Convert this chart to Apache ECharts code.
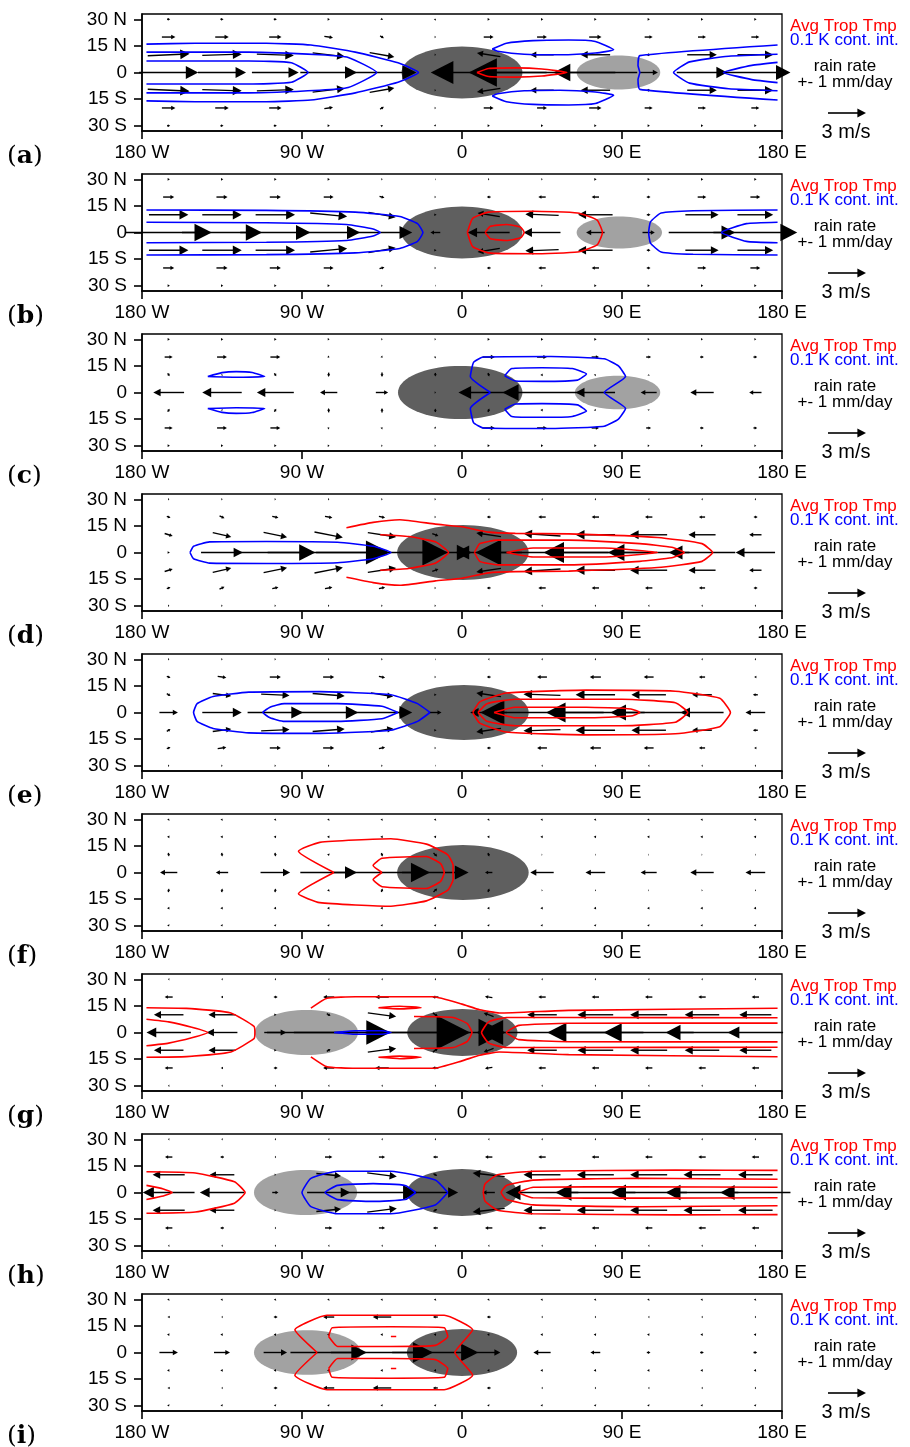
<!DOCTYPE html>
<html>
<head>
<meta charset="utf-8">
<script src="https://cdn.jsdelivr.net/npm/echarts@6/dist/echarts.min.js"></script>
<style>
html,body{margin:0;padding:0;background:#fff;}
#chart{width:910px;height:1447px;}
</style>
</head>
<body>
<div id="chart"></div>
<script>
// ---- vector grid: longitudes of the arrow columns, latitudes of the northern rows
// (southern rows at -10, -20, -30 mirror the northern ones: same u, opposite v)
const lons = [-165, -135, -105, -75, -45, -15, 15, 45, 75, 105, 135, 165];
const rowLats = [30, 20, 10, 0];

// ---- tick labels
const xTicks = [-180, -90, 0, 90, 180];
const xTickLabels = ['180 W', '90 W', '0', '90 E', '180 E'];
const yTicks = [30, 15, 0, -15, -30];
const yTickLabels = ['30 N', '15 N', '0', '15 S', '30 S'];
const panelLetters = ['a', 'b', 'c', 'd', 'e', 'f', 'g', 'h', 'i'];

// ---- winds (m/s), rows: 30N, 20N, 10N, equator
const uA = [
  [0.25, 0.25, 0.25, 0.2, 0.15, 0.1, 0.2, 0.2, 0.2, 0.2, 0.2, 0.2],
  [1.1, 1.1, 1.0, 0.7, 0.3, 0.1, 0.8, 0.8, 1.0, 0.65, 0.65, 0.65],
  [3.4, 3.2, 3.0, 2.6, 2.0, 0.1, -1.9, -1.9, -2.4, 0.3, 2.4, 2.9],
  [4.8, 3.9, 3.8, 4.6, 5.6, 0.3, -9.4, -11.9, -6.8, 1.5, 4.1, 5.7]];
const vA = [
  [0, 0, 0, 0, -0.1, 0.1, 0, 0, 0, 0, 0, 0],
  [0, 0, 0, -0.1, -0.2, 0, 0, 0, 0, 0, 0, 0],
  [0.15, 0.1, -0.1, -0.3, -0.35, 0, 0.3, 0, 0, 0, 0, 0],
  [0, 0, 0, 0, 0, 0, 0, 0, 0, 0, 0, 0]];

const uB = [
  [0.2, 0.2, 0.2, 0.2, 0.1, 0.05, 0.1, 0.1, 0.2, 0.2, 0.2, 0.2],
  [0.9, 0.9, 0.9, 0.8, 0.4, 0.1, -0.3, -0.6, -0.6, 0.3, 0.7, 0.8],
  [3.2, 3.2, 3.2, 3.0, 2.2, 0.2, -1.8, -2.7, -2.8, 0.3, 2.7, 2.9],
  [7.0, 6.5, 5.7, 5.1, 4.9, -0.8, -3.4, -3.0, -1.5, 1.0, 5.4, 6.8]];
const vB = [
  [0, 0, 0, 0, 0, 0, 0, 0, 0, 0, 0, 0],
  [0, 0, 0, 0, -0.1, 0, 0, 0, 0, 0, 0, 0],
  [0, 0, 0, -0.3, -0.4, 0, 0.3, 0.1, 0, 0, 0, 0],
  [0, 0, 0, 0, 0, 0, 0, 0, 0, 0, 0, 0]];

const uC = [
  [0.2, 0.2, 0.2, 0.15, 0.1, 0.1, 0.2, 0.2, 0.2, 0.15, 0.15, 0.15],
  [0.65, 0.8, 0.8, 0.1, 0.1, 0.1, 1.0, 0.8, 0.6, 0.4, 0.3, 0.3],
  [0.15, 0.05, 0.15, 0, 0, 0, 0.1, 0.1, 0.1, 0, 0, 0],
  [-2.5, -3.2, -3.0, -1.4, 1.0, 0.1, -4.9, -6.4, -3.2, -1.3, -1.9, -1.0]];
const vC = [
  [0, 0, 0, 0, 0, 0, 0, 0, 0, 0, 0, 0],
  [0, 0, 0, -0.1, -0.1, 0.1, 0, 0, 0, 0, 0, 0],
  [-0.25, 0.1, -0.25, -0.35, -0.35, -0.3, -0.3, 0.2, 0.1, 0.1, 0, 0],
  [0, 0, 0, 0, 0, 0, 0, 0, 0, 0, 0, 0]];

const uD = [
  [0.1, 0.1, 0.1, 0.1, 0.1, 0.1, -0.1, -0.1, -0.1, -0.1, -0.1, -0.1],
  [0.3, 0.4, 0.5, 0.6, 0.5, 0.1, -0.3, -0.6, -0.6, -0.6, -0.5, -0.3],
  [0.65, 1.5, 1.9, 2.3, 2.3, 0.5, -2.0, -3.0, -3.2, -3.0, -2.2, -1.0],
  [0.2, 3.4, 6.5, 9.9, 10.7, 5.9, -5.4, -10.8, -8.4, -6.6, -5.4, -3.2]];
const vD = [
  [0, 0, 0, 0, 0, 0, 0, 0, 0, 0, 0, 0],
  [-0.1, -0.2, -0.1, -0.1, -0.1, 0, 0, 0, 0, 0, 0, 0],
  [-0.2, -0.35, -0.4, -0.45, -0.35, -0.2, 0.3, 0.2, 0, 0, 0, 0],
  [0, 0, 0, 0, 0, 0, 0, 0, 0, 0, 0, 0]];

const uE = [
  [0.1, 0.1, 0.1, 0.1, 0.1, 0.05, -0.1, -0.1, -0.1, -0.1, -0.1, -0.1],
  [0.3, 0.7, 0.9, 0.9, 0.5, 0.1, -0.3, -0.8, -0.9, -0.8, -0.5, -0.2],
  [0.3, 1.5, 2.3, 2.6, 1.8, 0.2, -2.0, -3.0, -3.2, -2.8, -1.6, -0.4],
  [1.5, 3.2, 4.5, 4.8, 4.9, 1.0, -3.0, -10.0, -8.0, -6.2, -3.5, -1.6]];
const vE = [
  [0, 0, 0, 0, 0, 0, 0, 0, 0, 0, 0, 0],
  [-0.1, -0.1, 0, 0, -0.1, 0, 0, 0, 0, 0, 0, 0],
  [-0.2, -0.2, -0.1, -0.2, -0.3, 0, 0.3, 0.1, 0, 0, 0, 0],
  [0, 0, 0, 0, 0, 0, 0, 0, 0, 0, 0, 0]];

const uF = [
  [0.05, 0.05, 0.05, 0.05, 0.05, 0.05, 0.05, 0.05, 0.05, 0.05, 0.05, 0.05],
  [0.1, 0.1, 0.1, 0.1, 0.1, 0.1, 0.1, 0.1, 0.1, 0.1, 0.1, 0.1],
  [0.05, 0.05, 0.05, 0.05, 0.1, 0.3, 0.1, 0.05, 0.05, 0.05, 0.05, 0.05],
  [-1.4, -1.0, 2.4, 4.6, 7.8, 5.4, -0.6, -1.9, -1.6, -1.3, -1.9, -1.6]];
const vF = [
  [0.15, 0.15, 0.15, 0.15, 0.15, 0.15, 0.15, 0.15, 0.15, 0.15, 0.15, 0.15],
  [-0.2, -0.2, -0.2, -0.2, -0.2, -0.2, -0.2, -0.2, -0.2, -0.2, -0.2, -0.2],
  [-0.3, -0.3, -0.3, -0.2, -0.3, -0.3, -0.3, 0, 0, 0, 0, 0],
  [0, 0, 0, 0, 0, 0, 0, 0, 0, 0, 0, 0]];

const uG = [
  [-0.1, -0.1, -0.1, -0.1, -0.1, -0.1, -0.1, -0.1, -0.1, -0.1, -0.1, -0.1],
  [-0.65, -0.2, -0.3, -0.9, -1.1, -0.5, -0.6, -0.6, -0.6, -0.6, -0.6, -0.6],
  [-2.4, -2.2, 0.2, 0.3, 2.3, 0.4, -0.8, -2.4, -2.9, -3.0, -2.8, -2.6],
  [-3.6, -2.5, 1.8, 10.0, 14.3, 11.4, -2.0, -10.3, -7.8, -7.3, -5.9, -4.5]];
const vG = [
  [0, 0, 0, 0, 0, 0, 0, 0, 0, 0, 0, 0],
  [0, 0, 0, 0, 0, 0, 0.1, 0, 0, 0, 0, 0],
  [0, 0, 0, -0.2, -0.3, -0.3, 0.3, 0, 0, 0, 0, 0],
  [0, 0, 0, 0, 0, 0, 0, 0, 0, 0, 0, 0]];

const uH = [
  [-0.1, -0.1, -0.1, -0.1, -0.1, -0.1, -0.1, -0.1, -0.1, -0.1, -0.1, -0.1],
  [-0.6, -0.3, -0.1, 0.6, 0.5, -0.4, -0.6, -0.6, -0.6, -0.6, -0.6, -0.6],
  [-2.6, -2.0, 0.1, 2.0, 2.4, 0.3, -2.6, -3.0, -3.0, -3.0, -3.0, -2.8],
  [-4.2, -3.6, 0.5, 3.5, 5.8, 3.7, -1.0, -5.9, -6.5, -6.2, -5.9, -5.7]];
const vH = [
  [0, 0, 0, 0, 0, 0, 0, 0, 0, 0, 0, 0],
  [0, 0, 0, 0, 0, 0, 0, 0, 0, 0, 0, 0],
  [0, 0, 0, -0.2, -0.3, -0.2, 0.3, 0, 0, 0, 0, 0],
  [0, 0, 0, 0, 0, 0, 0, 0, 0, 0, 0, 0]];

const uI = [
  [0.05, 0.05, 0.05, 0.05, 0.05, 0.05, 0.05, 0.05, 0.05, 0.05, 0.05, 0.05],
  [-0.2, -0.1, -0.3, -0.9, -1.5, -0.4, -0.3, -0.1, -0.1, -0.1, -0.1, -0.1],
  [0.1, 0.1, 0.1, 0.1, 0.1, 0.1, 0.1, 0.1, 0.1, 0.1, 0.1, 0.1],
  [1.5, 1.3, 1.9, 6.2, 8.3, 7.0, 1.9, -1.4, -0.8, 0.3, 0.3, 0.3]];
const vI = [
  [0.15, 0.15, 0.15, 0.15, 0.15, 0.15, 0.15, 0.15, 0.15, 0.15, 0.15, 0.15],
  [0, 0, 0, 0, 0, 0, 0, 0, 0, 0, 0, 0],
  [-0.2, -0.2, -0.2, -0.2, -0.2, -0.2, -0.2, -0.2, -0.2, -0.2, -0.2, -0.2],
  [0, 0, 0, 0, 0, 0, 0, 0, 0, 0, 0, 0]];

// ---- rain-rate anomalies: [lon, lat, half-width lon, half-height lat, sign]
const rainA = [[0, 0, 34, 14.6, 1], [88, 0, 23.5, 9.6, -1]];
const rainB = [[0, 0, 34, 14.6, 1], [88.5, 0, 24, 9, -1]];
const rainC = [[-1, 0, 35, 15, 1], [87.5, 0, 24, 9.5, -1]];
const rainD = [[0.5, 0, 37, 15.5, 1]];
const rainE = [[1, 0, 36.5, 15.5, 1]];
const rainF = [[0.5, 0, 37, 15.5, 1]];
const rainG = [[-87.5, 0, 29, 12.7, -1], [0.2, 0, 31, 13.2, 1]];
const rainH = [[-88, 0, 29, 12.7, -1], [0, 0, 31, 13.2, 1]];
const rainI = [[-87, 0, 30, 12.6, -1], [0, 0, 31, 13.2, 1]];

// ---- temperature contours (the analysed field spans 177.5 W .. 177.5 E)
// sym(): northern branch ending on the equator, closed by its mirror image
function sym(pts) {
  const low = pts.slice(0, -1).reverse().map(p => [p[0], -p[1]]);
  return pts.concat(low);
}
function flip(pts) { return pts.map(p => [p[0], -p[1]]); }

const lensA = [[17, 13.2], [25, 16.5], [40, 18], [60, 18.3], [75, 17.5], [85.3, 12.8], [75, 11], [55, 10], [35, 10.3], [20, 12], [17, 13.2]];
const coldA = [
  sym([[-177.5, 16], [-150, 16.5], [-110, 16.5], [-85, 15.5], [-60, 11.5], [-36, 5.5], [-24.5, 0]]),
  sym([[-177.5, 11.5], [-120, 11.5], [-80, 10], [-64, 8.5], [-48, 0]]),
  sym([[-177.5, 6.5], [-120, 6.5], [-96, 5.5], [-86.6, 0]]),
  sym([[177.5, 15.5], [100, 9.5], [99, 4], [100, 0]]),
  sym([[177.5, 10.3], [150, 9.2], [128, 6], [119, 0]]),
  sym([[177.5, 5.7], [163, 4], [147, 0]]),
  lensA, flip(lensA)];
const warmA = [sym([[8.4, 0], [15, 2.3], [30, 2.6], [45, 2], [59, 0]])];

const coldB = [
  sym([[-177.5, 12.7], [-110, 12.5], [-60, 11.5], [-35, 9], [-25, 5], [-22, 0]]),
  sym([[-177.5, 5.8], [-110, 5.5], [-65, 4.5], [-50, 2], [-46, 0]]),
  sym([[177.5, 12.7], [130, 12.3], [112, 11], [106, 6], [105, 0]]),
  sym([[177.5, 5.8], [160, 5], [146, 0]])];
const warmB = [
  sym([[3, 0], [6, 8], [15, 11.5], [40, 12], [65, 11], [76, 7], [79, 0]]),
  sym([[13, 0], [16, 3.5], [25, 4.5], [33, 3], [35, 0]])];

const lensC = [[-143, 9], [-135, 11.2], [-127, 11.8], [-118, 11.3], [-111, 9], [-127, 8.6], [-143, 9]];
const innerC = [[24, 9.4], [28, 13.5], [45, 14], [62, 13.5], [70, 10.5], [65, 7], [45, 6.3], [30, 6.5], [24, 9.4]];
const coldC = [
  lensC, flip(lensC),
  sym([[16, 0], [4.7, 9], [6.5, 17], [12, 20], [50, 20.3], [80, 19], [88, 15], [92, 9], [80, 0]]),
  innerC, flip(innerC)];
const warmC = [];

const coldD = [sym([[-153, 0], [-151, 3.5], [-142, 6], [-110, 6.2], [-70, 5.8], [-50, 3.5], [-40, 0]])];
const warmD = [
  sym([[-65, 14], [-50, 17], [-35, 18.5], [-15, 16], [0, 14.5], [15, 11.5], [30, 10.8], [60, 10.5], [110, 8.5], [135, 5], [141, 0]]),
  sym([[-46, 10], [-30, 9], [-15, 6], [-7.6, 0]]),
  sym([[7, 0], [10, 5], [20, 7], [60, 7], [100, 5], [118, 3], [125, 0]]),
  sym([[25, 0], [40, 2.5], [80, 2.5], [110, 0]])];

const coldE = [
  sym([[-18, 0], [-25, 5], [-40, 10], [-80, 11.8], [-120, 11.5], [-140, 9], [-149, 5], [-151, 0]]),
  sym([[-36, 0], [-45, 3.5], [-70, 5], [-100, 5], [-108, 3], [-112, 0]])];
const warmE = [
  sym([[6, 0], [10, 6], [25, 11], [70, 12.6], [120, 12], [145, 8], [151, 0]]),
  sym([[9, 0], [14, 5], [30, 7.5], [90, 7.5], [120, 5.5], [127, 0]]),
  sym([[18, 0], [30, 3], [70, 3], [95, 2], [100, 0]])];

const coldF = [];
const warmF = [
  sym([[-72, 0], [-92, 12], [-80, 17], [-40, 19], [-20, 16], [-8, 10], [-5, 4], [-5, 0]]),
  sym([[-45, 0], [-50, 4], [-45, 8], [-20, 9], [-12, 5], [-10, 0]])];

const dashG = [[-47, 14], [-35, 14.8], [-23, 14], [-35, 13.3], [-47, 14]];
const armG = [[-85, 13.7], [-76, 19.3], [-60, 20.2], [-16, 20.2], [0, 16], [10, 12.8], [21, 11], [60, 12.5], [177.5, 13.7]];
const coldG = [sym([[-72, 0], [-60, 1], [-45, 1], [-40, 0]])];
const warmG = [
  sym([[-177.5, 14], [-155, 13.6], [-130, 11], [-117, 3.5], [-116.5, 0]]),
  sym([[-177.5, 7.5], [-165, 6], [-152, 3], [-143, 0]]),
  armG, flip(armG),
  sym([[-27, 9], [-5, 8.5], [3, 5], [5.6, 0]]),
  sym([[177.5, 8.3], [60, 8.5], [25, 8.5], [15, 6], [11, 0]]),
  sym([[177.5, 5.3], [60, 5.2], [32, 4], [25, 0]]),
  dashG, flip(dashG)];

const coldH = [
  sym([[-8, 0], [-15, 7], [-40, 12], [-70, 12], [-85, 8], [-90, 0]]),
  sym([[-26, 0], [-32, 4], [-50, 5], [-70, 4], [-77, 0]])];
const warmH = [
  sym([[-177.5, 11.7], [-150, 11], [-128, 6], [-122, 0]]),
  sym([[-177.5, 4], [-168, 2], [-163, 0]]),
  sym([[177.5, 12.5], [120, 12.6], [40, 12], [20, 10], [13, 5], [12, 0]]),
  sym([[177.5, 7.5], [100, 8], [40, 7], [25, 4], [22, 0]]),
  sym([[177.5, 3], [100, 3.2], [40, 3], [32, 0]])];

const innerI = [[-75, 9], [-73, 14], [-40, 14.5], [-10, 14], [-8, 9], [-15, 4], [-40, 3.4], [-70, 3.4], [-75, 9]];
const dashI = [[-40, 9], [-37, 9]];
const coldI = [];
const warmI = [
  sym([[-81.5, 0], [-94, 12.8], [-76, 21], [-10, 21], [6, 12.8], [-4, 0]]),
  innerI, flip(innerI), dashI, flip(dashI)];

const panels = [
  {u: uA, v: vA, rain: rainA, cold: coldA, warm: warmA},
  {u: uB, v: vB, rain: rainB, cold: coldB, warm: warmB},
  {u: uC, v: vC, rain: rainC, cold: coldC, warm: warmC},
  {u: uD, v: vD, rain: rainD, cold: coldD, warm: warmD},
  {u: uE, v: vE, rain: rainE, cold: coldE, warm: warmE},
  {u: uF, v: vF, rain: rainF, cold: coldF, warm: warmF},
  {u: uG, v: vG, rain: rainG, cold: coldG, warm: warmG},
  {u: uH, v: vH, rain: rainH, cold: coldH, warm: warmH},
  {u: uI, v: vI, rain: rainI, cold: coldI, warm: warmI}];

// ---- drawing
const REF_SPEED = 3;           // m/s of the key arrow
const REF_DEG = 20.8;          // key arrow length in degrees of longitude
const K = REF_DEG / REF_SPEED; // arrow length per m/s, in degrees
const PANEL_STEP = 160, GRID_TOP = 14, GRID_H = 117, GRID_LEFT = 142, GRID_W = 640;
const SANS = '"Liberation Sans", Arial, Helvetica, sans-serif';
const SERIF = '"DejaVu Serif", "Liberation Serif", serif';

function arrowShapes(a, b, lw) {
  const dx = b[0] - a[0], dy = b[1] - a[1];
  const L = Math.hypot(dx, dy);
  if (L < 0.3) return [];
  const ux = dx / L, uy = dy / L;
  const hl = Math.min(L, 0.18 * L + 1.8), hw = 0.09 * L + 1.1;
  const bx = b[0] - ux * hl, by = b[1] - uy * hl;
  const out = [];
  if (L - hl > 0.5) {
    out.push({type: 'line', shape: {x1: a[0], y1: a[1], x2: bx + ux * 0.8, y2: by + uy * 0.8},
      style: {stroke: '#000', lineWidth: lw}});
  }
  out.push({type: 'polygon', shape: {points: [[b[0], b[1]], [bx - uy * hw, by + ux * hw], [bx + uy * hw, by - ux * hw]]},
    style: {fill: '#000'}});
  return out;
}

function renderArrow(params, api) {
  const lon = api.value(0), lat = api.value(1), u = api.value(2), v = api.value(3);
  const a = api.coord([lon - K * u / 2, lat - K * v / 2]);
  const b = api.coord([lon + K * u / 2, lat + K * v / 2]);
  return {type: 'group', children: arrowShapes(a, b, 1.4)};
}

function renderRain(params, api) {
  const lon = api.value(0), lat = api.value(1), rx = api.value(2), ry = api.value(3), s = api.value(4);
  const pts = [];
  for (let i = 0; i < 72; i++) {
    const t = i / 72 * Math.PI * 2;
    pts.push(api.coord([lon + rx * Math.cos(t), lat + ry * Math.sin(t)]));
  }
  return {type: 'polygon', shape: {points: pts}, style: {fill: s > 0 ? '#5f5f5f' : '#a2a2a2'}};
}

const grids = [], xAxes = [], yAxes = [], series = [], graphics = [];
panels.forEach((p, k) => {
  const top = GRID_TOP + PANEL_STEP * k;
  grids.push({left: GRID_LEFT, top: top, width: GRID_W, height: GRID_H,
    show: true, borderColor: '#000', borderWidth: 1.3, backgroundColor: 'transparent'});
  xAxes.push({gridIndex: k, type: 'value', min: -180, max: 180, interval: 90,
    axisLine: {onZero: false, lineStyle: {color: '#000', width: 1.6}},
    axisTick: {length: 8, lineStyle: {color: '#000', width: 1.6}},
    splitLine: {show: false},
    axisLabel: {margin: 12, color: '#000', fontSize: 19, fontFamily: SANS,
      formatter: val => xTickLabels[xTicks.indexOf(val)] || ''}});
  yAxes.push({gridIndex: k, type: 'value', min: -33, max: 33,
    axisLine: {onZero: false, lineStyle: {color: '#000', width: 1.6}},
    axisTick: {length: 8, customValues: yTicks, lineStyle: {color: '#000', width: 1.6}},
    splitLine: {show: false},
    axisLabel: {margin: 15, color: '#000', fontSize: 19, fontFamily: SANS, customValues: yTicks,
      formatter: val => yTickLabels[yTicks.indexOf(val)] || ''}});

  series.push({type: 'custom', xAxisIndex: k, yAxisIndex: k, renderItem: renderRain,
    data: p.rain, z: 1, silent: true, clip: true});

  const vec = [];
  rowLats.forEach((lat, r) => {
    lons.forEach((lon, c) => {
      vec.push([lon, lat, p.u[r][c], p.v[r][c]]);
      if (lat !== 0) vec.push([lon, -lat, p.u[r][c], -p.v[r][c]]);
    });
  });
  series.push({type: 'custom', xAxisIndex: k, yAxisIndex: k, renderItem: renderArrow,
    data: vec, z: 2, silent: true, clip: false});

  [[p.cold, '#0000ff'], [p.warm, '#ff0000']].forEach(([lines, col]) => {
    lines.forEach(pts => {
      series.push({type: 'line', xAxisIndex: k, yAxisIndex: k, data: pts, showSymbol: false,
        symbol: 'none', smooth: 0.15, lineStyle: {color: col, width: 1.6}, z: 3, silent: true});
    });
  });

  // key and captions on the right of each panel
  graphics.push(
    {type: 'text', left: 790, top: top + 4, style: {text: 'Avg Trop Tmp', fill: '#ff0000', font: '17px ' + SANS}},
    {type: 'text', left: 790, top: top + 18, style: {text: '0.1 K cont. int.', fill: '#0000ff', font: '17px ' + SANS}},
    {type: 'text', x: 845, y: top + 52, style: {text: 'rain rate', fill: '#000', font: '17px ' + SANS, textAlign: 'center', textVerticalAlign: 'middle'}},
    {type: 'text', x: 845, y: top + 68, style: {text: '+- 1 mm/day', fill: '#000', font: '17px ' + SANS, textAlign: 'center', textVerticalAlign: 'middle'}},
    {type: 'group', children: arrowShapes([828, top + 99], [866, top + 99], 1.6)},
    {type: 'text', x: 846, y: top + 118, style: {text: REF_SPEED + ' m/s', fill: '#000', font: '20px ' + SANS, textAlign: 'center', textVerticalAlign: 'middle'}},
    {type: 'text', x: 7, y: top + 142, style: {
      text: '{p|(}{b|' + panelLetters[k] + '}{p|)}', textVerticalAlign: 'middle',
      rich: {p: {fontSize: 25, fontFamily: SERIF, fill: '#000'},
             b: {fontSize: 25, fontFamily: SERIF, fontWeight: 'bold', fill: '#000'}}}}
  );
});

const chart = echarts.init(document.getElementById('chart'), null, {renderer: 'canvas'});
chart.setOption({
  animation: false,
  backgroundColor: '#fff',
  grid: grids, xAxis: xAxes, yAxis: yAxes, series: series, graphic: graphics
});
</script>
</body>
</html>
